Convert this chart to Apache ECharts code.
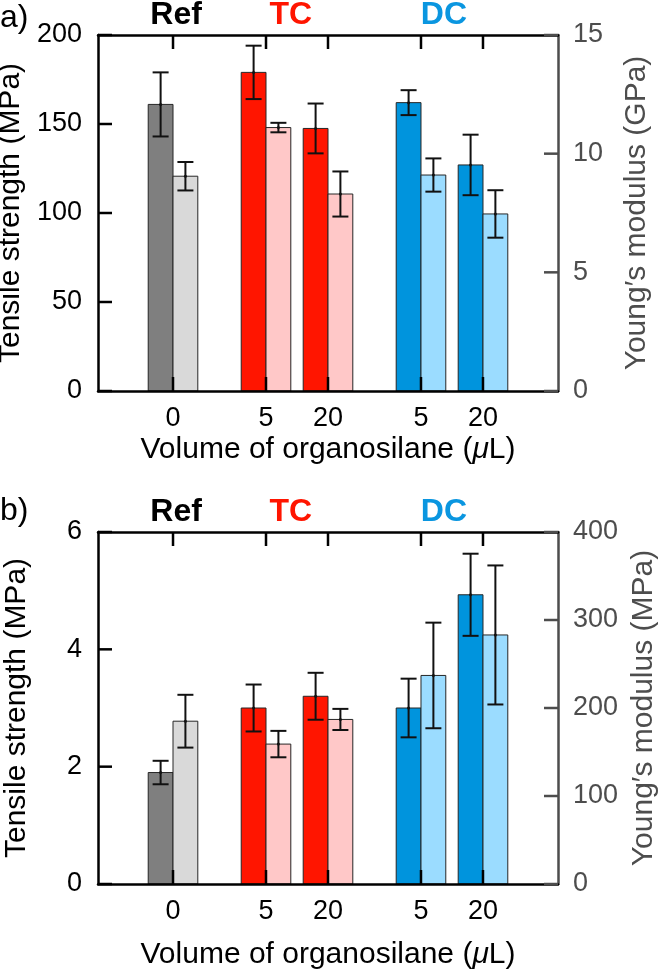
<!DOCTYPE html>
<html>
<head>
<meta charset="utf-8">
<script src="https://cdn.jsdelivr.net/npm/echarts@6/dist/echarts.min.js"></script>
<style>
html,body{margin:0;padding:0;background:#fff;}
#chart{width:667px;height:969px;}
</style>
</head>
<body>
<div id="chart"></div>
<script>
// ---- data ----
const xPos = [1, 2.5, 3.5, 5, 6];
const xLabels = ['0', '5', '20', '5', '20'];
const groupNames = ['Ref', 'TC', 'DC'];
const groupLabelPos = [1.05, 2.9, 5.37];
const groupOf = [0, 1, 1, 2, 2];

// panel a
const strengthA = [161, 179, 147.5, 162, 127];      // MPa
const strengthErrA = [18, 15, 14, 7, 17];
const modulusA = [9.05, 11.1, 8.3, 9.1, 7.46];      // GPa
const modulusErrA = [0.6, 0.2, 0.95, 0.7, 1.0];

// panel b
const strengthB = [1.9, 3.0, 3.2, 3.0, 4.93];       // MPa
const strengthErrB = [0.2, 0.4, 0.4, 0.5, 0.7];
const modulusB = [185, 159, 187, 237, 283];         // MPa
const modulusErrB = [30, 15, 12, 60, 79];

// tick values
const leftTicksA = [0, 50, 100, 150, 200];
const rightTicksA = [0, 5, 10, 15];
const leftTicksB = [0, 2, 4, 6];
const rightTicksB = [0, 100, 200, 300, 400];

// ---- style ----
const X_MIN = -0.21, X_MAX = 7.21;
const darkColors = ['#7f7f7f', '#ff1500', '#0094dd'];
const lightColors = ['#d9d9d9', '#ffc8c8', '#9bdcff'];
const groupTextColors = ['#000000', '#ff1500', '#0a96e0'];
const FONT = '"Liberation Sans", Arial, sans-serif';
const rightGray = '#4d4d4d';
const TICK_LEN = 14;

function makeData(vals, errs) {
  return xPos.map((x, i) => [x, vals[i], errs[i], groupOf[i]]);
}

function renderBar(side, colors) {
  return function (params, api) {
    const x = api.value(0), v = api.value(1), e = api.value(2), g = api.value(3);
    const p0 = api.coord([x, 0]);
    const p1 = api.coord([x, v]);
    const w = api.size([0.4, 0])[0];
    const left = side < 0 ? p0[0] - w : p0[0];
    const cx = left + w / 2;
    const yt = api.coord([x, v + e])[1];
    const yb = api.coord([x, v - e])[1];
    const cap = 8;
    const ls = { stroke: '#111', lineWidth: 2 };
    return {
      type: 'group',
      children: [
        { type: 'rect', shape: { x: left, y: p1[1], width: w, height: p0[1] - p1[1] },
          style: { fill: colors[g], stroke: '#262626', lineWidth: 1 } },
        { type: 'line', shape: { x1: cx, y1: yt, x2: cx, y2: yb }, style: ls },
        { type: 'line', shape: { x1: cx - cap, y1: yt, x2: cx + cap, y2: yt }, style: ls },
        { type: 'line', shape: { x1: cx - cap, y1: yb, x2: cx + cap, y2: yb }, style: ls },
        { type: 'circle', shape: { cx: cx, cy: p1[1], r: 1.5 }, style: { fill: '#111' } }
      ]
    };
  };
}

function labelFor(v) {
  for (let i = 0; i < xPos.length; i++) if (Math.abs(xPos[i] - v) < 1e-6) return xLabels[i];
  return '';
}
function groupFor(v) {
  for (let i = 0; i < groupLabelPos.length; i++) if (Math.abs(groupLabelPos[i] - v) < 1e-6) return i;
  return -1;
}

function bottomX(gi, nameGap) {
  return {
    type: 'value', gridIndex: gi, position: 'bottom', min: X_MIN, max: X_MAX, z: 3,
    axisLine: { onZero: false, lineStyle: { color: '#000', width: 2.5 } },
    axisTick: { show: false },
    axisLabel: { customValues: xPos, formatter: labelFor, margin: 14,
      fontFamily: FONT, fontSize: 27, color: '#000' },
    splitLine: { show: false },
    name: 'Volume of organosilane ({mu|μ}L)', nameLocation: 'middle', nameGap: nameGap,
    nameTextStyle: { fontFamily: FONT, fontSize: 30, color: '#000',
      rich: { mu: { fontFamily: FONT, fontSize: 30, fontStyle: 'italic', color: '#000' } } }
  };
}
function topX(gi) {
  return {
    type: 'value', gridIndex: gi, position: 'top', min: X_MIN, max: X_MAX, z: 3,
    axisLine: { onZero: false, lineStyle: { color: '#000', width: 2.5 } },
    axisTick: { show: false },
    axisLabel: { customValues: groupLabelPos,
      formatter: v => { const g = groupFor(v); return g >= 0 ? groupNames[g] : ''; },
      color: v => { const g = groupFor(v); return g >= 0 ? groupTextColors[g] : '#000'; },
      fontFamily: FONT, fontSize: 32, fontWeight: 'bold', margin: 4 },
    splitLine: { show: false }
  };
}
function leftY(gi, ticks, name) {
  return {
    type: 'value', gridIndex: gi, position: 'left', min: ticks[0], max: ticks[ticks.length - 1],
    interval: ticks[1] - ticks[0], z: 3,
    axisLine: { show: true, onZero: false, lineStyle: { color: '#000', width: 2.5 } },
    axisTick: { show: false },
    axisLabel: { margin: 16, fontFamily: FONT, fontSize: 27, color: '#000' },
    splitLine: { show: false },
    name: name, nameLocation: 'middle', nameGap: 66, nameRotate: 90,
    nameTextStyle: { fontFamily: FONT, fontSize: 30, color: '#000' }
  };
}
function rightY(gi, ticks, name) {
  return {
    type: 'value', gridIndex: gi, position: 'right', min: ticks[0], max: ticks[ticks.length - 1],
    interval: ticks[1] - ticks[0], z: 3,
    axisLine: { show: true, onZero: false, lineStyle: { color: rightGray, width: 2.5 } },
    axisTick: { show: false },
    axisLabel: { margin: 15, fontFamily: FONT, fontSize: 27, color: rightGray },
    splitLine: { show: false },
    name: name, nameLocation: 'middle', nameGap: 64, nameRotate: 90,
    nameTextStyle: { fontFamily: FONT, fontSize: 30, color: rightGray }
  };
}

const baseGraphic = [
  { type: 'text', left: 0, top: 2, style: { text: 'a)', fontFamily: FONT, fontSize: 32, fill: '#000' } },
  { type: 'text', left: 0, top: 495, style: { text: 'b)', fontFamily: FONT, fontSize: 32, fill: '#000' } }
];

const chart = echarts.init(document.getElementById('chart'), null, { renderer: 'canvas' });
chart.setOption({
  animation: false,
  backgroundColor: '#fff',
  grid: [
    { left: 98, right: 109, top: 35, height: 356, outerBoundsMode: 'none' },
    { left: 98, right: 109, top: 532, height: 352, outerBoundsMode: 'none' }
  ],
  xAxis: [bottomX(0, 44), topX(0), bottomX(1, 56), topX(1)],
  yAxis: [
    leftY(0, leftTicksA, 'Tensile strength (MPa)'),
    rightY(0, rightTicksA, 'Young′s modulus (GPa)'),
    leftY(1, leftTicksB, 'Tensile strength (MPa)'),
    rightY(1, rightTicksB, 'Young′s modulus (MPa)')
  ],
  graphic: baseGraphic,
  series: [
    { type: 'custom', xAxisIndex: 0, yAxisIndex: 0, renderItem: renderBar(-1, darkColors),
      data: makeData(strengthA, strengthErrA), z: 1 },
    { type: 'custom', xAxisIndex: 0, yAxisIndex: 1, renderItem: renderBar(1, lightColors),
      data: makeData(modulusA, modulusErrA), z: 1 },
    { type: 'custom', xAxisIndex: 2, yAxisIndex: 2, renderItem: renderBar(-1, darkColors),
      data: makeData(strengthB, strengthErrB), z: 1 },
    { type: 'custom', xAxisIndex: 2, yAxisIndex: 3, renderItem: renderBar(1, lightColors),
      data: makeData(modulusB, modulusErrB), z: 1 }
  ]
});

// inward ticks, positioned through the axes' own scales (convertToPixel)
try {
  const tickEls = [];
  const panels = [
    { xi: 0, yl: 0, yr: 1, lt: leftTicksA, rt: rightTicksA },
    { xi: 2, yl: 2, yr: 3, lt: leftTicksB, rt: rightTicksB }
  ];
  const line = (x1, y1, x2, y2, color) => ({
    type: 'line', z: 100, silent: true,
    shape: { x1: x1, y1: y1, x2: x2, y2: y2 },
    style: { stroke: color, lineWidth: 2.5 }
  });
  panels.forEach(p => {
    const L = { xAxisIndex: p.xi, yAxisIndex: p.yl };
    const R = { xAxisIndex: p.xi, yAxisIndex: p.yr };
    const yMin = p.lt[0], yMax = p.lt[p.lt.length - 1];
    xPos.forEach(x => {
      const b = chart.convertToPixel(L, [x, yMin]);
      const t = chart.convertToPixel(L, [x, yMax]);
      tickEls.push(line(b[0], b[1], b[0], b[1] - TICK_LEN, '#000'));
      tickEls.push(line(t[0], t[1], t[0], t[1] + TICK_LEN, '#000'));
    });
    p.lt.forEach(v => {
      const q = chart.convertToPixel(L, [X_MIN, v]);
      tickEls.push(line(q[0], q[1], q[0] + TICK_LEN, q[1], '#000'));
    });
    p.rt.forEach(v => {
      const q = chart.convertToPixel(R, [X_MAX, v]);
      tickEls.push(line(q[0], q[1], q[0] - TICK_LEN, q[1], rightGray));
    });
  });
  chart.setOption({ graphic: baseGraphic.concat(tickEls) });
} catch (err) {
  console.error(err);
}
</script>
</body>
</html>
